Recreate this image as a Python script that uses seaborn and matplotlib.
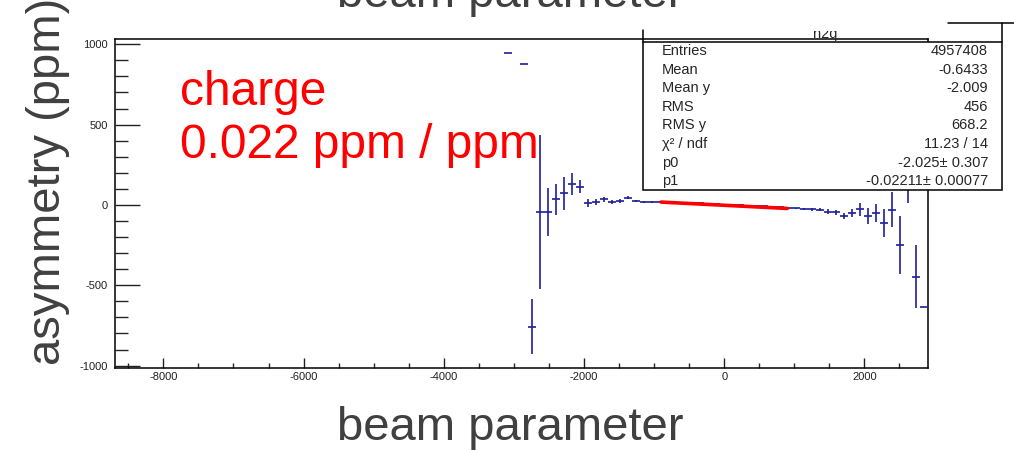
import numpy as np
import pandas as pd
import matplotlib
matplotlib.use("Agg")
import matplotlib.pyplot as plt
import seaborn as sns
from matplotlib.lines import Line2D
from matplotlib.patches import Rectangle
from matplotlib.ticker import MultipleLocator

# ---------------- data ----------------
bin_x = [-3079, -2851, -2737, -2623, -2509, -2395, -2281, -2167, -2053, -1939,
         -1825, -1711, -1597, -1483, -1369, -1255, -1141, -1027, -913, -799,
         -685, -571, -457, -343, -229, -115, -1, 113, 227, 341,
         455, 569, 683, 797, 911, 1025, 1139, 1253, 1367, 1481,
         1595, 1709, 1823, 1937, 2051, 2165, 2279, 2393, 2507, 2621,
         2735, 2849]
asym = [945, 878, -758, -42, -42, 35, 73, 131, 114, 10,
        17, 36, 17, 25, 46, 25, 17, 17, 19, 16,
        15, 12, 11, 10, 7, 5, 2, 1, -2, -5,
        -6, -9, -11, -15, -21, -22, -24, -27, -30, -42,
        -46, -69, -50, -27, -69, -50, -114, -29, -249, 180,
        -447, -636]
asym_err = [0, 0, 170, 480, 150, 97, 103, 66, 40, 25,
            20, 16, 12, 12, 8, 8, 6, 6, 5, 5,
            5, 5, 5, 5, 5, 5, 5, 5, 5, 5,
            5, 5, 5, 5, 6, 6, 8, 10, 10, 15,
            15, 20, 25, 40, 52, 55, 86, 111, 181, 168,
            195, 0]
bin_half_width = 57
fit_p0 = -2.025
fit_p1 = -0.02211
fit_range = [-900, 900]

x_ticks = [-8000, -6000, -4000, -2000, 0, 2000]
y_ticks = [-1000, -500, 0, 500, 1000]

stats_labels = ["Entries", "Mean", "Mean y", "RMS", "RMS y", "χ² / ndf", "p0", "p1"]
stats_values = ["4957408", "-0.6433", "-2.009", "456", "668.2", "11.23 / 14",
                "-2.025± 0.307", "-0.02211± 0.00077"]
hist_name = "h2q"
title_text = "beam parameter"
x_label = "beam parameter"
y_label = "asymmetry (ppm)"
note_lines = ["charge", "0.022 ppm / ppm"]

# ---------------- style ----------------
sns.set_style("ticks")
plt.rcParams["font.family"] = ["Liberation Sans", "DejaVu Sans"]
plt.rcParams["axes.unicode_minus"] = False

W, H = 1014, 450
def fx(px):
    return px / W
def fy(py):
    return 1 - py / H

fig = plt.figure(figsize=(W / 100, H / 100), dpi=100)
ax = fig.add_axes([fx(115), fy(368), (928 - 115) / W, (368 - 39) / H])

blue = "#1e1e9c"
df = pd.DataFrame({"x": bin_x, "y": asym, "err": asym_err})
ax.errorbar(df["x"], df["y"], yerr=df["err"], xerr=bin_half_width, fmt="none",
            ecolor=blue, elinewidth=1.2, capsize=0, zorder=3)

fit_x = np.array(fit_range, dtype=float)
fit_y = fit_p0 + fit_p1 * fit_x
sns.lineplot(x=fit_x, y=fit_y, color="#ff0000", linewidth=2.6, ax=ax, zorder=5)

ax.set_xlim(-8690, 2907)
ax.set_ylim(-1015, 1033)
ax.set_xticks(x_ticks)
ax.set_yticks(y_ticks)
ax.xaxis.set_minor_locator(MultipleLocator(500))
ax.yaxis.set_minor_locator(MultipleLocator(100))
ax.tick_params(axis="x", which="major", direction="in", length=7.5, width=1.0,
               labelsize=8, pad=3, colors="#222222")
ax.tick_params(axis="x", which="minor", direction="in", length=3.8, width=1.0)
ax.tick_params(axis="y", which="major", direction="in", length=18, width=1.0,
               labelsize=8, pad=5, colors="#222222")
ax.tick_params(axis="y", which="minor", direction="in", length=9, width=1.0)
for s in ax.spines.values():
    s.set_visible(True)
    s.set_linewidth(1.1)
    s.set_color("black")
ax.set_xlabel("")
ax.set_ylabel("")

# axis labels and title
lab_col = "#404040"
fig.text(fx(510), fy(440), x_label, ha="center", va="baseline", fontsize=34, color=lab_col)
fig.text(fx(60), fy(365), y_label, rotation=90, rotation_mode="anchor",
         ha="left", va="baseline", fontsize=34, color=lab_col)
fig.text(fx(510), fy(7), title_text, ha="center", va="baseline", fontsize=34,
         color=lab_col, zorder=8)

# red annotation
fig.text(fx(180), fy(105), note_lines[0], ha="left", va="baseline", fontsize=34.5, color="#ff0000")
fig.text(fx(180), fy(158), note_lines[1], ha="left", va="baseline", fontsize=34.5, color="#ff0000")

# stats box
fig.add_artist(Rectangle((fx(643), fy(190)), (1002 - 643) / W, (190 - 42) / H,
                         transform=fig.transFigure, facecolor="white", edgecolor="black",
                         linewidth=1.1, zorder=5))
fig.text(fx(825), fy(38), hist_name, ha="center", va="baseline", fontsize=10.5, zorder=5)
fig.add_artist(Rectangle((fx(645), fy(31)), (946 - 645) / W, 31 / H,
                         transform=fig.transFigure, facecolor="white", edgecolor="none",
                         zorder=6))
fig.add_artist(Line2D([fx(643), fx(643)], [fy(42), fy(30)], transform=fig.transFigure,
                      color="black", linewidth=1.1, zorder=7))
fig.add_artist(Line2D([fx(948), 1.0], [fy(23), fy(23)], transform=fig.transFigure,
                      color="black", linewidth=1.1, zorder=7))
fig.add_artist(Line2D([fx(1002), fx(1002)], [fy(23), fy(42)], transform=fig.transFigure,
                      color="black", linewidth=1.1, zorder=7))
for k, (lab, val) in enumerate(zip(stats_labels, stats_values)):
    yy = 51 + 18.6 * k
    fig.text(fx(662), fy(yy), lab, ha="left", va="center", fontsize=10.5, zorder=7)
    fig.text(fx(988), fy(yy), val, ha="right", va="center", fontsize=10.5, zorder=7)

fig.savefig("out.png", dpi=100)
